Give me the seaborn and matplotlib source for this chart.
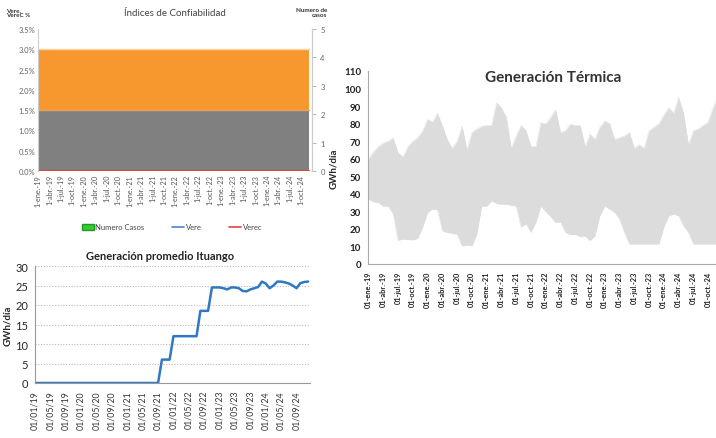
import numpy as np
import pandas as pd
import matplotlib
matplotlib.use("Agg")
import matplotlib.pyplot as plt
import seaborn as sns
from matplotlib.patches import Patch
from matplotlib.lines import Line2D

sns.set_style("white")
plt.rcParams['font.family'] = ['Lato', 'DejaVu Sans']

# ---------------- DATA ----------------
anios = ['19', '20', '21', '22', '23', '24']

# Índices de Confiabilidad (monthly, Jan-2019 .. Dec-2024)
limite_vere_pct = [1.5] * 72
limite_verec_pct = [3.0] * 72
vere_pct = [0.0] * 72
verec_pct = [0.0] * 72
numero_casos = [0] * 72
indices_ticklabels = [f"1-{m}.-{a}" for a in anios for m in ['ene', 'abr', 'jul', 'oct']]

# Generación promedio Ituango (GWh/día, monthly Jan-2019 .. Dec-2024)
ituango_gwh = [0.0] * 33 + [
    6.0, 6.0, 6.0,                                  # oct-21 .. dic-21
    12.0, 12.0, 12.0, 12.0, 12.0, 12.0, 12.0,       # ene-22 .. jul-22
    18.5, 18.5, 18.5,                               # ago-22 .. oct-22
    24.5, 24.5, 24.5, 24.3, 24.0, 24.5, 24.5, 24.3, 23.6, 23.5, 24.0,   # nov-22 .. sep-23
    24.3, 24.6, 26.0, 25.5, 24.3, 25.0, 26.0, 26.0, 25.8, 25.5, 25.0,   # oct-23 .. ago-24
    24.3, 25.6, 25.9, 26.0]                         # sep-24 .. dic-24
ituango_ticklabels = [f"01/{m:02d}/{a}" for a in anios for m in [1, 5, 9]]

# Generación Térmica (GWh/día, monthly Jan-2019 .. Dec-2024): min and max envelope
termica_max = [60, 64, 67, 69, 70, 72, 63.5, 61, 67, 70, 72, 76,
               82.5, 81, 86, 79, 71, 66, 70, 78.7, 65, 75, 77, 78.5,
               79, 79, 92, 89, 83.5, 66, 73, 79, 76, 67, 67, 80.6,
               80, 83.5, 88, 75, 76, 79.7, 79, 79, 67, 74, 71, 78,
               81.6, 80, 71, 72, 73, 75, 66, 68, 66, 76, 78, 80,
               85, 89, 86, 95, 86, 68, 76, 77, 79, 81, 89, 96]
termica_min = [37, 35.5, 35, 33, 33, 28.5, 13.5, 14.2, 14, 13.7, 14.6, 21,
               29.4, 31.3, 31, 19, 18, 17.5, 17, 10.4, 10.8, 10.4, 17, 33,
               33, 36, 34.5, 34, 34, 33.5, 33, 21, 23, 18, 23.7, 33,
               30, 27, 23.7, 24, 18, 16.7, 17, 15.5, 16, 13.3, 16, 27.5,
               33, 31.3, 29.4, 25.6, 18, 11.4, 11.4, 11.4, 11.4, 11.4, 11.4, 11.4,
               21, 27.5, 28.5, 27.5, 21.8, 18, 11.4, 11.4, 11.4, 11.4, 11.4, 11.4]
termica_ticklabels = [f"01-{m}.-{a}" for a in anios for m in ['ene', 'abr', 'jul', 'oct']]

# ---------------- FIGURE ----------------
W, H = 716, 439
fig = plt.figure(figsize=(W / 100, H / 100), dpi=100)
fig.patch.set_facecolor("white")


def frac(x0, y0, x1, y1):
    return [x0 / W, 1 - y1 / H, (x1 - x0) / W, (y1 - y0) / H]


# ===== Panel 1: Índices de Confiabilidad =====
ax1 = fig.add_axes(frac(38, 30, 312, 172))
df1 = pd.DataFrame({"mes": np.arange(len(limite_vere_pct)),
                    "lim_vere": limite_vere_pct, "lim_verec": limite_verec_pct,
                    "vere": vere_pct, "verec": verec_pct})
ax1.fill_between(df1["mes"], 0, df1["lim_vere"], color="#808080", lw=0, step="post")
ax1.fill_between(df1["mes"], df1["lim_vere"], df1["lim_verec"], color="#f7982f", lw=0, step="post")
ax1.plot(df1["mes"], df1["lim_vere"], color="#e8a060", lw=1.0, drawstyle="steps-post")
ax1.plot(df1["mes"], df1["lim_verec"], color="#fbd3a8", lw=1.0, drawstyle="steps-post")
sns.lineplot(data=df1, x="mes", y="vere", color="#4f81d0", lw=1.2, ax=ax1)
sns.lineplot(data=df1, x="mes", y="verec", color="#e0453a", lw=1.5, ax=ax1)
ax1.set_xlim(0, 71.8)
ax1.set_ylim(0, 3.5)
ax1.set_yticks(np.arange(0, 3.51, 0.5))
ax1.set_yticklabels([f"{v:.1f}%" for v in np.arange(0, 3.51, 0.5)], fontsize=5.5, color="#666666")
ax1.set_xticks(np.arange(0, 72, 3))
ax1.set_xticklabels(indices_ticklabels, rotation=90, fontsize=5.2, color="#555555")
ax1.set_xlabel("")
ax1.set_ylabel("")
ax1.tick_params(axis="both", length=0, pad=2)
for s in ["top", "bottom"]:
    ax1.spines[s].set_visible(False)
for s in ["left", "right"]:
    ax1.spines[s].set_color("#cccccc")
    ax1.spines[s].set_linewidth(0.8)
ax1b = ax1.twinx()
ax1b.set_ylim(0, 5)
ax1b.set_yticks(range(0, 6))
ax1b.set_yticklabels([str(i) for i in range(6)], fontsize=5.5, color="#666666")
ax1b.tick_params(axis="y", length=3, color="#bbbbbb", pad=3)
for s in ["top", "bottom", "left"]:
    ax1b.spines[s].set_visible(False)
ax1b.spines["right"].set_color("#cccccc")
ax1b.grid(False)
fig.text(175 / W, 1 - 13 / H, "Índices de Confiabilidad", ha="center", va="center",
         fontsize=7, color="#444444")
fig.text(6 / W, 1 - 13 / H, "Vere,\nVereC %", ha="left", va="center", fontsize=4.5,
         fontweight="bold", color="#333333", linespacing=1.1)
fig.text(327 / W, 1 - 13 / H, "Numero de\ncasos", ha="right", va="center", fontsize=4.5,
         fontweight="bold", color="#333333", linespacing=1.1, multialignment="right")
handles = [Patch(facecolor="#33cc33", edgecolor="#229922", label="Numero Casos"),
           Line2D([0], [0], color="#4f81d0", lw=1.2, label="Vere"),
           Line2D([0], [0], color="#e0453a", lw=1.2, label="Verec")]
fig.legend(handles=handles, loc="center", bbox_to_anchor=(172 / W, 1 - 228 / H), ncol=3,
           frameon=False, fontsize=5.5, handlelength=1.6, handletextpad=0.2,
           columnspacing=3.6, labelcolor="#444444")

# ===== Panel 2: Generación promedio Ituango =====
ax2 = fig.add_axes(frac(35, 267, 310, 384))
df2 = pd.DataFrame({"mes": np.arange(len(ituango_gwh)), "gwh": ituango_gwh})
sns.lineplot(data=df2, x="mes", y="gwh", color="#2f78c4", lw=1.8, ax=ax2)
ax2.set_xlim(0, 71.5)
ax2.set_ylim(0, 30)
ax2.set_yticks(range(0, 31, 5))
ax2.tick_params(axis="y", labelsize=8, length=3, color="#999999", pad=2)
ax2.set_xticks(np.arange(0, 72, 4))
ax2.set_xticklabels(ituango_ticklabels, rotation=90, fontsize=6.3, color="#333333")
ax2.tick_params(axis="x", length=3, color="#999999", pad=2)
ax2.set_xlabel("")
ax2.set_ylabel("GWh/día", fontsize=7, fontweight="bold", labelpad=2)
ax2.yaxis.grid(True, linestyle=(0, (1, 1.5)), color="#bbbbbb", lw=0.8)
for s in ["top", "right"]:
    ax2.spines[s].set_visible(False)
for s in ["left", "bottom"]:
    ax2.spines[s].set_color("#999999")
    ax2.spines[s].set_linewidth(0.8)
ax2.text(160 / W, 1 - 257 / H, "Generación promedio Ituango", transform=fig.transFigure,
         ha="center", va="center", fontsize=8, fontweight="bold", color="#222222")

# ===== Panel 3: Generación Térmica =====
ax3 = fig.add_axes(frac(368, 72, 716, 265))
df3 = pd.DataFrame({"mes": np.arange(len(termica_max)), "tmin": termica_min, "tmax": termica_max})
ax3.fill_between(df3["mes"], df3["tmin"], df3["tmax"], color="#dcdcdc", lw=0)
sns.lineplot(data=df3, x="mes", y="tmax", color="#dcdcdc", lw=0.3, ax=ax3)
sns.lineplot(data=df3, x="mes", y="tmin", color="#dcdcdc", lw=0.3, ax=ax3)
ax3.set_xlim(-0.1, 70.6)
ax3.set_ylim(0, 110)
ax3.set_yticks(range(0, 111, 10))
ax3.set_yticklabels([str(v) for v in range(0, 111, 10)], fontsize=7, fontweight="bold", color="#222222")
ax3.set_xticks(np.arange(0, 71, 3))
ax3.set_xticklabels(termica_ticklabels, rotation=90, fontsize=5.3, fontweight="bold", color="#222222")
ax3.tick_params(axis="both", length=3, color="#999999", pad=2)
ax3.set_xlabel("")
ax3.set_ylabel("GWh/día", fontsize=7, fontweight="bold", labelpad=4)
for s in ["top", "right"]:
    ax3.spines[s].set_visible(False)
for s in ["left", "bottom"]:
    ax3.spines[s].set_color("#aaaaaa")
    ax3.spines[s].set_linewidth(0.8)
ax3.text(553 / W, 1 - 78 / H, "Generación Térmica", transform=fig.transFigure,
         ha="center", va="center", fontsize=11, fontweight="bold", color="#333333")

fig.savefig("out.png", dpi=100, facecolor="white")
